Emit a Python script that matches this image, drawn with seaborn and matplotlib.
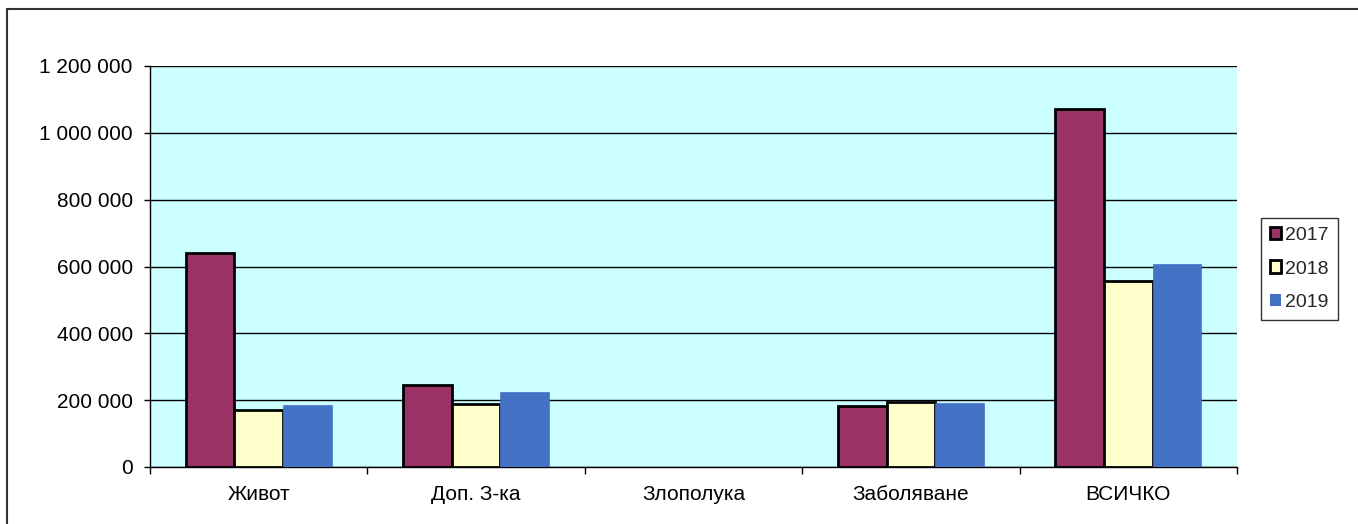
import numpy as np
import pandas as pd
import matplotlib
matplotlib.use("Agg")
import matplotlib.pyplot as plt
from matplotlib.ticker import FuncFormatter, FixedLocator
from matplotlib.lines import Line2D
from matplotlib.patches import Patch
import seaborn as sns

categories = ["Живот", "Доп. З-ка", "Злополука", "Заболяване", "ВСИЧКО"]
years = ["2017", "2018", "2019"]
values_2017 = [640000, 244000, 0, 182000, 1070000]
values_2018 = [171000, 188000, 0, 195000, 557000]
values_2019 = [185000, 224000, 0, 191000, 606000]
yticks = [0, 200000, 400000, 600000, 800000, 1000000, 1200000]

colors = {"2017": "#993366", "2018": "#FFFFCC", "2019": "#4472C4"}
edges = {"2017": ("black", 2.0), "2018": ("black", 2.0), "2019": ("#4472C4", 0.5)}

df = pd.DataFrame({
    "category": categories * 3,
    "year": ["2017"] * 5 + ["2018"] * 5 + ["2019"] * 5,
    "value": values_2017 + values_2018 + values_2019,
})

sns.set_theme(style="white")
plt.rcParams["font.family"] = ["Liberation Sans", "DejaVu Sans"]

W, H = 1358, 524
fig = plt.figure(figsize=(W / 100, H / 100), dpi=100)
fig.patch.set_facecolor("white")
ax = fig.add_axes([150 / W, (H - 467) / H, 1087 / W, 401 / H])
ax.set_facecolor("#CCFFFF")

sns.barplot(data=df, x="category", y="value", hue="year", hue_order=years,
            order=categories, palette=colors, width=0.67, saturation=1,
            ax=ax, legend=False, zorder=3)

for cont, yr in zip(ax.containers, years):
    ec, lw = edges[yr]
    for bar in cont:
        bar.set_edgecolor(ec)
        bar.set_linewidth(lw if bar.get_height() > 0 else 0)
        bar.set_zorder(3)

ax.set_xlim(-0.5, len(categories) - 0.5)
ax.set_ylim(0, 1200000)
ax.yaxis.set_major_locator(FixedLocator(yticks))
ax.yaxis.set_major_formatter(FuncFormatter(lambda v, p: f"{int(v):,}".replace(",", " ")))
ax.grid(axis="y", color="black", linewidth=1.0, zorder=1)
ax.set_axisbelow(True)
ax.set_xlabel("")
ax.set_ylabel("")

for s in ["top", "right"]:
    ax.spines[s].set_visible(False)
for s in ["left", "bottom"]:
    ax.spines[s].set_visible(True)
    ax.spines[s].set_color("black")
    ax.spines[s].set_linewidth(1.0)

ax.set_xticks(np.arange(-0.5, len(categories), 1), minor=True)
ax.tick_params(axis="x", which="major", length=0, pad=13, labelsize=15, colors="black")
ax.tick_params(axis="x", which="minor", length=5, width=1, color="black", direction="out", bottom=True)
ax.tick_params(axis="y", which="major", length=4, width=1, color="black", direction="out",
               left=True, pad=8.5, labelsize=15, labelcolor="black")

handles = [Patch(facecolor=colors[y], edgecolor=edges[y][0], linewidth=2.0 if y != "2019" else 0) for y in years]
leg = fig.legend(handles, years, loc="center left", bbox_to_anchor=(1261 / W, 1 - 269 / H),
                 fontsize=14, frameon=True, fancybox=False, edgecolor="black",
                 handlelength=0.6, handleheight=0.6, handletextpad=0.2,
                 labelspacing=0.85, borderpad=0.45, borderaxespad=0)
leg.get_frame().set_linewidth(1.0)

fig.add_artist(Line2D([7 / W, 7 / W], [0, 1 - 9 / H], color="#333333", linewidth=1.5, transform=fig.transFigure))
fig.add_artist(Line2D([7 / W, 1], [1 - 9 / H, 1 - 9 / H], color="#333333", linewidth=1.5, transform=fig.transFigure))

fig.savefig("out.png", dpi=100, facecolor="white")
